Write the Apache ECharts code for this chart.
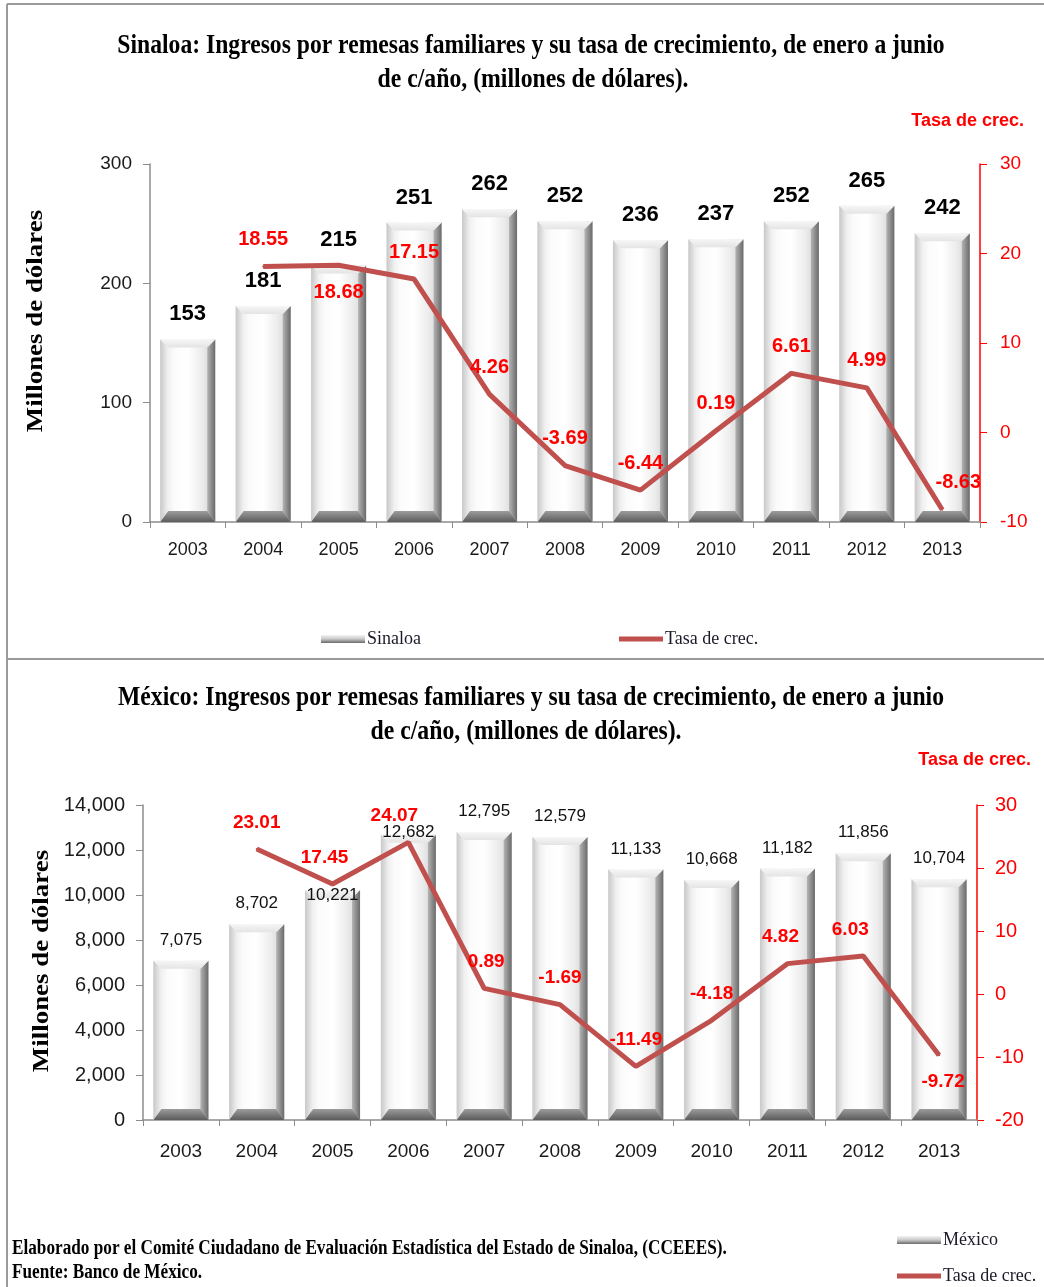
<!DOCTYPE html>
<html>
<head>
<meta charset="utf-8">
<script src="https://cdn.jsdelivr.net/npm/echarts@6/dist/echarts.min.js"></script>
<style>
  html, body { margin: 0; padding: 0; background: #fff; }
  #chart { width: 1044px; height: 1287px; }
</style>
</head>
<body>
<div id="chart"></div>
<script>
  var years = ['2003', '2004', '2005', '2006', '2007', '2008', '2009', '2010', '2011', '2012', '2013'];

  var sinaloa = [153, 181, 215, 251, 262, 252, 236, 237, 252, 265, 242];
  var sinaloaTasa = [null, 18.55, 18.68, 17.15, 4.26, -3.69, -6.44, 0.19, 6.61, 4.99, -8.63];

  var mexico = [7075, 8702, 10221, 12682, 12795, 12579, 11133, 10668, 11182, 11856, 10704];
  var mexicoTasa = [null, 23.01, 17.45, 24.07, 0.89, -1.69, -11.49, -4.18, 4.82, 6.03, -9.72];

  var sinTicks = { min: 0, max: 300, interval: 100 };
  var sinTasaTicks = { min: -10, max: 30, interval: 10 };
  var mexTicks = { min: 0, max: 14000, interval: 2000 };
  var mexTasaTicks = { min: -20, max: 30, interval: 10 };

  // label placement tweaks (style only)
  var sinTasaPos = ['top', 'top', 'bottom', 'top', 'top', 'top', 'top', 'top', 'top', 'top', 'top'];
  var sinTasaDx = [0, 0, 0, 0, 0, 0, 0, 0, 0, 0, 16];
  var mexTasaPos = ['top', 'top', 'top', 'top', 'top', 'top', 'top', 'top', 'top', 'top', 'bottom'];
  var mexTasaDx = [0, 0, -8, -14, 2, 0, 0, 0, -7, -13, 4];
  var mexBarDy = [0, 0, 26, 18, 0, 0, 0, 0, 0, 0, 0];

  var RED = '#ff0000';
  var LINE = '#c0504d';
  var GREY = '#8c8c8c';
  var SANS = "'Liberation Sans', Arial, sans-serif";
  var SERIF = "'Liberation Serif', 'Times New Roman', serif";

  var BAR_W = 55;

  function grad(x, y, x2, y2, stops) {
    return new echarts.graphic.LinearGradient(x, y, x2, y2, stops.map(function (c, i) {
      return { offset: i / (stops.length - 1), color: c };
    }));
  }

  // draws the bevelled "3D" look of every bar from the axis scale
  function bevel(params, api) {
    var top = api.coord([api.value(0), api.value(1)]);
    var base = api.coord([api.value(0), 0]);
    var x0 = top[0] - BAR_W / 2, x1 = top[0] + BAR_W / 2;
    var yT = top[1], yB = base[1];
    var b = 8, bb = 11;
    return {
      type: 'group',
      children: [
        { type: 'rect', shape: { x: x0, y: yT, width: BAR_W, height: yB - yT },
          style: { fill: grad(0, 0, 1, 0, ['#e2e2e2', '#fbfbfb', '#ffffff', '#ededed', '#cfcfcf']) } },
        { type: 'polygon', shape: { points: [[x0, yT], [x0 + b, yT + b], [x0 + b, yB - bb], [x0, yB]] },
          style: { fill: grad(0, 0, 1, 0, ['#c8c8c8', '#f2f2f2']) } },
        { type: 'polygon', shape: { points: [[x1, yT], [x1 - b, yT + b], [x1 - b, yB - bb], [x1, yB]] },
          style: { fill: grad(0, 0, 1, 0, ['#b4b4b4', '#6a6a6a']) } },
        { type: 'polygon', shape: { points: [[x0, yT], [x1, yT], [x1 - b, yT + b], [x0 + b, yT + b]] },
          style: { fill: grad(0, 0, 0, 1, ['#f6f6f6', '#e4e4e4']) } },
        { type: 'polygon', shape: { points: [[x0, yB], [x1, yB], [x1 - b, yB - bb], [x0 + b, yB - bb]] },
          style: { fill: grad(0, 0, 0, 1, ['#9c9c9c', '#5c5c5c']) } }
      ]
    };
  }

  var legendBarStyle = { color: grad(0, 0, 0, 1, ['#f4f4f4', '#c8c8c8', '#6a6a6a']) };
  var lineIcon = 'path://M0,0h44v5h-44z';
  var legendText = { fontFamily: SERIF, fontSize: 18, color: '#1a1a2a', padding: [0, 0, 0, -3] };

  function lineLabels(values, pos, dx) {
    return values.map(function (v, i) {
      return {
        value: v,
        label: { position: pos[i], offset: [dx[i], 0] }
      };
    });
  }

  function catAxis(grid, size, margin) {
    return {
      type: 'category', gridIndex: grid, data: years,
      axisLine: { lineStyle: { color: GREY, width: 1.5 } },
      axisTick: { show: true, length: 6, lineStyle: { color: GREY } },
      axisLabel: { color: '#1a1a1a', fontFamily: SANS, fontSize: size, margin: margin }
    };
  }

  function valAxis(grid, ticks, color, size, margin, fmt, pos) {
    return {
      type: 'value', gridIndex: grid, position: pos,
      min: ticks.min, max: ticks.max, interval: ticks.interval,
      splitLine: { show: false },
      axisLine: { show: true, lineStyle: { color: color, width: 1.5 } },
      axisTick: { show: true, length: 7, lineStyle: { color: color } },
      axisLabel: { color: color === GREY ? '#1a1a1a' : RED, fontFamily: SANS, fontSize: size, margin: margin, formatter: fmt }
    };
  }

  function fmtThousands(v) {
    return Number(v).toLocaleString('en-US');
  }

  function lineSeries(axisX, axisY, values, pos, dx, size) {
    return {
      name: 'Tasa de crec.', type: 'line', xAxisIndex: axisX, yAxisIndex: axisY, z: 5,
      symbol: 'circle', symbolSize: 2, showSymbol: true,
      lineStyle: { color: LINE, width: 5 }, itemStyle: { color: LINE },
      data: lineLabels(values, pos, dx),
      label: { show: true, distance: 16, color: RED, fontFamily: SANS, fontWeight: 'bold', fontSize: size }
    };
  }

  var chart = echarts.init(document.getElementById('chart'));

  var option = {
    animation: false,
    backgroundColor: '#fff',
    grid: [
      { left: 150, right: 64, top: 164, height: 358 },
      { left: 143, right: 67, top: 805, height: 315 }
    ],
    xAxis: [
      catAxis(0, 18, 19),
      catAxis(1, 19, 22)
    ],
    yAxis: [
      valAxis(0, sinTicks, GREY, 19, 18, null, 'left'),
      valAxis(0, sinTasaTicks, RED, 19, 20, null, 'right'),
      valAxis(1, mexTicks, GREY, 20, 18, fmtThousands, 'left'),
      valAxis(1, mexTasaTicks, RED, 20, 18, null, 'right')
    ],
    legend: [
      {
        left: 316, top: 625, itemGap: 198, itemWidth: 44, itemHeight: 8, textStyle: legendText,
        data: [{ name: 'Sinaloa', icon: 'rect', itemStyle: legendBarStyle },
               { name: 'Tasa de crec.', icon: lineIcon, itemStyle: { color: LINE } }]
      },
      {
        left: 892, top: 1226, itemWidth: 44, itemHeight: 8, textStyle: legendText,
        data: [{ name: 'México', icon: 'rect', itemStyle: legendBarStyle }]
      },
      {
        left: 892, top: 1262, itemWidth: 44, itemHeight: 8, textStyle: legendText,
        data: [{ name: 'Tasa de crec.', icon: lineIcon, itemStyle: { color: LINE } }]
      }
    ],
    series: [
      {
        name: 'Sinaloa', type: 'custom', xAxisIndex: 0, yAxisIndex: 0, z: 2, silent: true,
        renderItem: bevel, data: sinaloa.map(function (v, i) { return [i, v]; }),
        itemStyle: legendBarStyle
      },
      {
        name: 'Sinaloa', type: 'bar', xAxisIndex: 0, yAxisIndex: 0, z: 3, barWidth: BAR_W,
        data: sinaloa,
        itemStyle: { color: 'rgba(0,0,0,0)' },
        label: { show: true, position: 'top', distance: 14, color: '#000', fontFamily: SANS, fontWeight: 'bold', fontSize: 22 }
      },
      lineSeries(0, 1, sinaloaTasa, sinTasaPos, sinTasaDx, 20),
      {
        name: 'México', type: 'custom', xAxisIndex: 1, yAxisIndex: 2, z: 2, silent: true,
        renderItem: bevel, data: mexico.map(function (v, i) { return [i, v]; }),
        itemStyle: legendBarStyle
      },
      {
        name: 'México', type: 'bar', xAxisIndex: 1, yAxisIndex: 2, z: 3, barWidth: BAR_W,
        data: mexico.map(function (v, i) { return { value: v, label: { offset: [0, mexBarDy[i]] } }; }),
        itemStyle: { color: 'rgba(0,0,0,0)' },
        label: { show: true, position: 'top', distance: 12, color: '#111', fontFamily: SANS, fontSize: 17, formatter: function (p) { return fmtThousands(p.value); } }
      },
      lineSeries(1, 3, mexicoTasa, mexTasaPos, mexTasaDx, 19)
    ],
    graphic: [
      // panel frame
      { type: 'line', shape: { x1: 7, y1: 4, x2: 1044, y2: 4 }, style: { stroke: '#9a9a9a', lineWidth: 2 } },
      { type: 'line', shape: { x1: 7, y1: 4, x2: 7, y2: 1287 }, style: { stroke: '#9a9a9a', lineWidth: 2 } },
      { type: 'line', shape: { x1: 7, y1: 659, x2: 1044, y2: 659 }, style: { stroke: '#9a9a9a', lineWidth: 2 } },
      // titles
      { type: 'text', x: 531, y: 46, scaleX: 0.875,
        style: { text: 'Sinaloa: Ingresos por remesas familiares y su tasa de crecimiento, de enero a junio', align: 'center', verticalAlign: 'middle', font: 'bold 27px ' + SERIF, fill: '#000' } },
      { type: 'text', x: 533, y: 80, scaleX: 0.88,
        style: { text: 'de c/año, (millones de dólares).', align: 'center', verticalAlign: 'middle', font: 'bold 27px ' + SERIF, fill: '#000' } },
      { type: 'text', x: 531, y: 698, scaleX: 0.875,
        style: { text: 'México: Ingresos por remesas familiares y su tasa de crecimiento, de enero a junio', align: 'center', verticalAlign: 'middle', font: 'bold 27px ' + SERIF, fill: '#000' } },
      { type: 'text', x: 526, y: 732, scaleX: 0.88,
        style: { text: 'de c/año, (millones de dólares).', align: 'center', verticalAlign: 'middle', font: 'bold 27px ' + SERIF, fill: '#000' } },
      // right axis names
      { type: 'text', x: 1024, y: 121,
        style: { text: 'Tasa de crec.', align: 'right', verticalAlign: 'middle', font: 'bold 18px ' + SANS, fill: RED } },
      { type: 'text', x: 1031, y: 760,
        style: { text: 'Tasa de crec.', align: 'right', verticalAlign: 'middle', font: 'bold 18px ' + SANS, fill: RED } },
      // left axis names
      { type: 'text', x: 36, y: 321, rotation: Math.PI / 2, scaleX: 1.17,
        style: { text: 'Millones de dólares', align: 'center', verticalAlign: 'middle', font: 'bold 23px ' + SERIF, fill: '#000' } },
      { type: 'text', x: 42, y: 961, rotation: Math.PI / 2, scaleX: 1.17,
        style: { text: 'Millones de dólares', align: 'center', verticalAlign: 'middle', font: 'bold 23px ' + SERIF, fill: '#000' } },
      // footnote
      { type: 'text', x: 12, y: 1249, scaleX: 0.86,
        style: { text: 'Elaborado por el Comité Ciudadano de Evaluación Estadística del Estado de Sinaloa, (CCEEES).', align: 'left', verticalAlign: 'middle', font: 'bold 20px ' + SERIF, fill: '#000' } },
      { type: 'text', x: 12, y: 1273, scaleX: 0.86,
        style: { text: 'Fuente: Banco de México.', align: 'left', verticalAlign: 'middle', font: 'bold 20px ' + SERIF, fill: '#000' } }
    ]
  };

  chart.setOption(option);
</script>
</body>
</html>
